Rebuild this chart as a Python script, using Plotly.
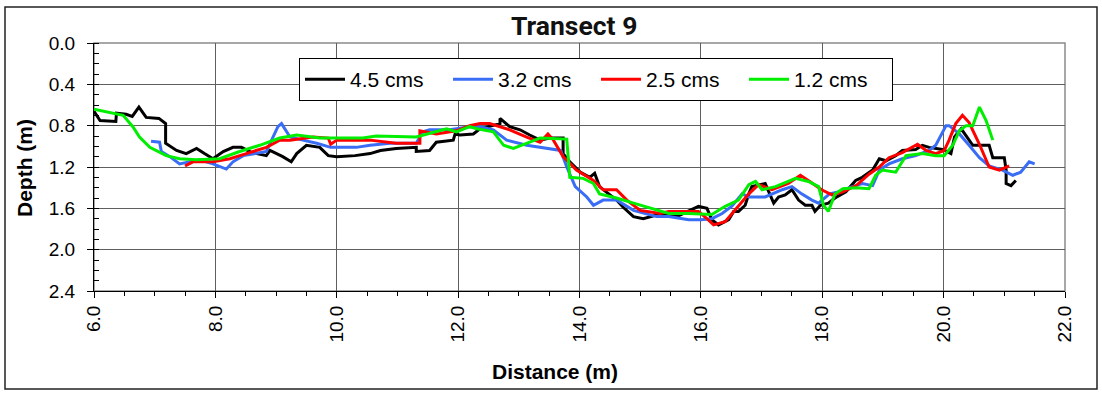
import plotly.graph_objects as go

# ---------------- data (distance m, depth m) ----------------
black_x = [6.00, 6.10, 6.36, 6.37, 6.53, 6.63, 6.74, 6.86, 7.07, 7.18, 7.18, 7.36, 7.52, 7.69, 7.82, 7.96,
           8.13, 8.29, 8.43, 8.60, 8.84, 8.90, 9.11, 9.25, 9.34, 9.50, 9.72, 9.86, 10.00, 10.30, 10.55,
           10.72, 10.98, 11.31, 11.31, 11.53, 11.64, 11.92, 11.95, 12.03, 12.25, 12.36, 12.69, 12.69,
           12.85, 13.02, 13.18, 13.35, 13.51, 13.73, 13.73, 13.84, 14.01, 14.17, 14.25, 14.33, 14.61,
           14.72, 14.89, 15.05, 15.30, 15.60, 15.96, 16.10, 16.18, 16.29, 16.46, 16.54, 16.62, 16.73,
           16.79, 16.84, 17.06, 17.20, 17.28, 17.39, 17.50, 17.61, 17.72, 17.83, 17.88, 17.97, 18.10,
           18.21, 18.39, 18.55, 18.66, 18.83, 18.94, 19.05, 19.21, 19.32, 19.54, 19.65, 19.76, 19.98,
           20.12, 20.18, 20.29, 20.37, 20.48, 20.75, 20.81, 21.00, 21.03, 21.03, 21.11, 21.19]
black_y = [0.66, 0.75, 0.76, 0.68, 0.69, 0.71, 0.62, 0.72, 0.73, 0.78, 0.97, 1.04, 1.07, 1.02, 1.07, 1.12,
           1.05, 1.01, 1.01, 1.06, 1.09, 1.04, 1.10, 1.15, 1.07, 0.99, 1.01, 1.09, 1.10, 1.09, 1.07,
           1.04, 1.02, 1.01, 1.05, 1.04, 0.96, 0.94, 0.88, 0.89, 0.88, 0.83, 0.78, 0.73,
           0.81, 0.84, 0.89, 0.94, 0.92, 0.92, 1.07, 1.15, 1.25, 1.30, 1.26, 1.39, 1.52,
           1.59, 1.68, 1.70, 1.66, 1.68, 1.58, 1.60, 1.71, 1.76, 1.71, 1.63, 1.63, 1.57,
           1.46, 1.39, 1.36, 1.55, 1.49, 1.47, 1.42, 1.52, 1.57, 1.57, 1.63, 1.57, 1.55,
           1.50, 1.44, 1.33, 1.30, 1.23, 1.12, 1.14, 1.09, 1.04, 1.03, 0.99, 1.01, 1.03,
           1.07, 0.91, 0.83, 0.90, 0.99, 0.99, 1.11, 1.11, 1.23, 1.36, 1.38, 1.33]

blue_x = [6.94, 7.08, 7.11, 7.25, 7.41, 7.58, 7.74, 7.96, 8.18, 8.29, 8.46, 8.84, 9.03, 9.09, 9.23, 9.44,
          9.67, 9.90, 10.32, 10.55, 10.88, 11.31, 11.42, 11.53, 11.86, 12.19, 12.36, 12.58, 12.80, 13.13,
          13.51, 13.69, 13.79, 13.93, 14.12, 14.23, 14.39, 14.61, 14.89, 15.27, 15.47, 15.80, 16.00,
          16.18, 16.35, 16.51, 16.68, 16.79, 17.06, 17.34, 17.50, 17.66, 17.83, 17.94, 18.12, 18.28,
          18.45, 18.66, 18.83, 18.94, 19.10, 19.32, 19.54, 19.76, 19.87, 19.95, 20.04, 20.09, 20.26,
          20.42, 20.59, 20.75, 20.97, 21.14, 21.27, 21.41, 21.50]
blue_y = [0.95, 0.96, 1.05, 1.10, 1.17, 1.15, 1.13, 1.17, 1.22, 1.15, 1.09, 1.05, 0.81, 0.78, 0.91, 0.94,
          0.97, 1.01, 1.01, 0.99, 0.97, 0.97, 0.86, 0.84, 0.84, 0.81, 0.81, 0.84, 0.94, 0.99,
          1.02, 1.04, 1.20, 1.39, 1.49, 1.57, 1.52, 1.52, 1.62, 1.68, 1.68, 1.71, 1.71,
          1.70, 1.65, 1.58, 1.46, 1.49, 1.49, 1.42, 1.39, 1.46, 1.52, 1.55, 1.46, 1.44,
          1.40, 1.36, 1.38, 1.23, 1.17, 1.12, 1.09, 1.04, 0.99, 0.90, 0.80, 0.80, 0.88,
          0.99, 1.11, 1.19, 1.23, 1.28, 1.25, 1.15, 1.17]

red_x = [7.50, 7.63, 7.96, 8.24, 8.51, 8.84, 9.06, 9.23, 9.61, 9.86, 9.90, 10.00, 10.55, 10.98, 11.37,
         11.37, 11.64, 11.97, 12.19, 12.36, 12.52, 12.85, 13.13, 13.35, 13.48, 13.57, 13.73, 13.95,
         14.23, 14.39, 14.61, 14.78, 15.00, 15.33, 15.47, 15.96, 16.10, 16.21, 16.40, 16.62, 16.79,
         16.95, 17.17, 17.44, 17.64, 17.77, 17.99, 18.16, 18.34, 18.56, 18.77, 18.94, 19.10, 19.32,
         19.57, 19.71, 19.87, 20.01, 20.09, 20.20, 20.31, 20.42, 20.59, 20.75, 20.92, 21.08]
red_y = [1.19, 1.15, 1.15, 1.12, 1.07, 1.01, 0.94, 0.94, 0.91, 0.92, 0.98, 0.94, 0.94, 0.97, 0.97,
         0.85, 0.88, 0.85, 0.80, 0.78, 0.78, 0.84, 0.91, 0.96, 0.88, 0.94, 1.10, 1.23,
         1.33, 1.42, 1.42, 1.52, 1.62, 1.65, 1.63, 1.63, 1.70, 1.76, 1.73, 1.58, 1.46,
         1.37, 1.42, 1.36, 1.28, 1.33, 1.42, 1.47, 1.44, 1.38, 1.27, 1.20, 1.11, 1.06,
         0.98, 1.04, 1.07, 1.04, 0.94, 0.78, 0.70, 0.77, 0.98, 1.20, 1.23, 1.19]

green_x = [6.00, 6.26, 6.48, 6.64, 6.75, 6.92, 7.19, 7.41, 7.69, 8.07, 8.40, 8.73, 9.06, 9.34, 9.72,
           10.43, 10.65, 11.31, 11.81, 11.97, 12.19, 12.31, 12.58, 12.75, 12.91, 13.18, 13.35, 13.79,
           13.84, 14.06, 14.23, 14.33, 14.61, 14.89, 15.27, 15.47, 15.80, 16.18, 16.40, 16.62, 16.79,
           16.90, 17.01, 17.23, 17.56, 17.77, 17.94, 18.02, 18.10, 18.21, 18.34, 18.56, 18.77, 18.88,
           18.99, 19.21, 19.38, 19.65, 19.87, 20.01, 20.15, 20.26, 20.37, 20.48, 20.59, 20.70, 20.81]
green_y = [0.64, 0.67, 0.70, 0.81, 0.91, 1.01, 1.09, 1.12, 1.13, 1.12, 1.05, 0.99, 0.92, 0.89, 0.92,
           0.92, 0.90, 0.91, 0.83, 0.86, 0.81, 0.83, 0.86, 0.99, 1.02, 0.96, 0.92, 0.93,
           1.30, 1.31, 1.36, 1.46, 1.50, 1.55, 1.62, 1.65, 1.65, 1.66, 1.58, 1.52, 1.37,
           1.34, 1.42, 1.39, 1.31, 1.34, 1.39, 1.57, 1.63, 1.46, 1.41, 1.40, 1.41, 1.28,
           1.23, 1.25, 1.09, 1.07, 1.09, 1.09, 0.99, 0.85, 0.80, 0.80, 0.62, 0.75, 0.94]

series_names = ["4.5 cms", "3.2 cms", "2.5 cms", "1.2 cms"]
series_colors = ["#000000", "#3a6df5", "#ff0000", "#00ee00"]

x_ticks = [6.0, 8.0, 10.0, 12.0, 14.0, 16.0, 18.0, 20.0, 22.0]
y_ticks = [0.0, 0.4, 0.8, 1.2, 1.6, 2.0, 2.4]

title_text = "Transect 9"
x_title = "Distance (m)"
y_title = "Depth (m)"

# ---------------- figure ----------------
W, H = 1102, 396
L, R, T, B = 94, 37, 43, 105
pw, ph = W - L - R, H - T - B

def px_x(p):
    return (p - L) / pw

def px_y(p):
    return (H - B - p) / ph

fig = go.Figure()
for xs, ys, name, col in zip([black_x, blue_x, red_x, green_x],
                             [black_y, blue_y, red_y, green_y],
                             series_names, series_colors):
    fig.add_trace(go.Scatter(x=xs, y=ys, mode="lines", name=name,
                             line=dict(color=col, width=3)))

tick_font = dict(family="Arial, Liberation Sans, sans-serif", size=19, color="#000")
grid_col = "#5e5e5e"

fig.update_layout(
    width=W, height=H,
    margin=dict(l=L, r=R, t=T, b=B),
    paper_bgcolor="white", plot_bgcolor="white",
    showlegend=True,
    legend=dict(orientation="h", x=px_x(299), y=px_y(58), xanchor="left", yanchor="top",
                bordercolor="#000", borderwidth=1, bgcolor="white",
                font=dict(family="Arial, Liberation Sans, sans-serif", size=21, color="#000"),
                entrywidth=93, itemwidth=40, tracegroupgap=0),
    xaxis=dict(range=[6, 22], tickmode="array", tickvals=x_ticks,
               ticktext=[f"{v:.1f}" for v in x_ticks], tickangle=-90,
               showgrid=True, gridcolor=grid_col, gridwidth=1,
               showline=True, linecolor="#000", linewidth=1,
               ticks="outside", ticklen=6, tickcolor="#000",
               minor=dict(dtick=0.5, ticks="outside", ticklen=4, tickcolor="#000", showgrid=False),
               tickfont=tick_font, zeroline=False),
    yaxis=dict(range=[2.4, 0], tickmode="array", tickvals=y_ticks,
               ticktext=[f"{v:.1f}" for v in y_ticks],
               showgrid=True, gridcolor=grid_col, gridwidth=1,
               showline=True, linecolor="#000", linewidth=1,
               ticks="outside", ticklen=6, tickcolor="#000",
               minor=dict(dtick=0.1, ticks="inside", ticklen=5, tickcolor="#000", showgrid=False),
               tickfont=tick_font, zeroline=False, ticklabelstandoff=8),
    shapes=[
        dict(type="rect", xref="paper", yref="paper", x0=0, x1=1, y0=0, y1=1,
             line=dict(color="#8a8a8a", width=1.5), layer="below"),
        dict(type="rect", xref="paper", yref="paper",
             x0=px_x(5), x1=px_x(1097), y0=px_y(389), y1=px_y(7),
             line=dict(color="#222", width=1.5)),
    ],
    annotations=[
        dict(text=f"<b>{title_text}</b>", xref="paper", yref="paper",
             x=px_x(574), y=px_y(26), xanchor="center", yanchor="middle", showarrow=False,
             font=dict(family="Roboto, Liberation Sans, sans-serif", size=26.5, color="#111")),
        dict(text=f"<b>{x_title}</b>", xref="paper", yref="paper",
             x=px_x(555), y=px_y(371), xanchor="center", yanchor="middle", showarrow=False,
             font=dict(family="Arial, Liberation Sans, sans-serif", size=21, color="#000")),
        dict(text=f"<b>{y_title}</b>", xref="paper", yref="paper", textangle=-90,
             x=px_x(24), y=px_y(168), xanchor="center", yanchor="middle", showarrow=False,
             font=dict(family="Arial, Liberation Sans, sans-serif", size=21, color="#000")),
    ],
)

fig.write_html("out.html", config={"displayModeBar": False},
               post_script="document.body.style.margin='0';document.body.style.padding='0';")
